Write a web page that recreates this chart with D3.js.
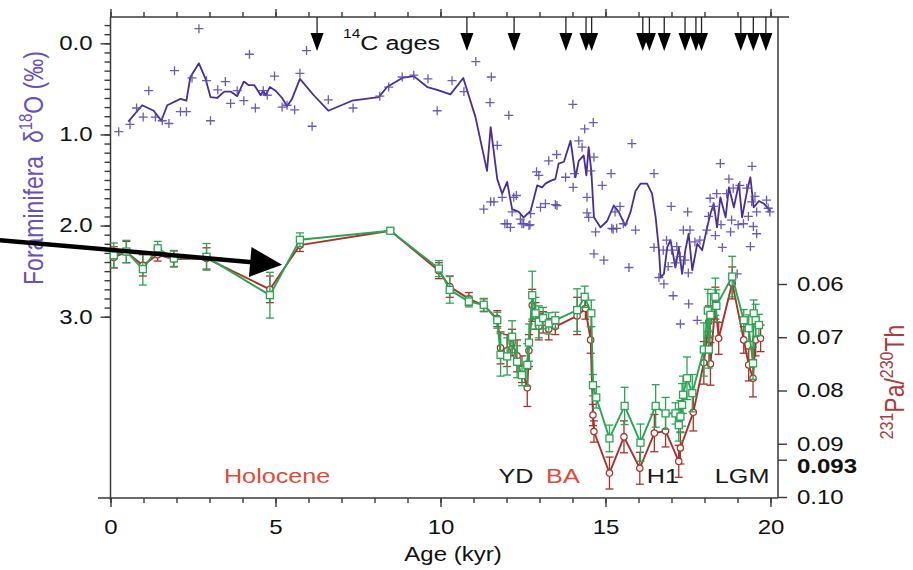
<!DOCTYPE html>
<html>
<head>
<meta charset="utf-8">
<script src="https://cdn.jsdelivr.net/npm/d3@7"></script>
<style>
  body { margin: 0; background: #fff; }
  text { font-family: "Liberation Sans", Arial, Helvetica, sans-serif; }
</style>
</head>
<body>
<svg id="chart" width="913" height="570"></svg>
<script>
// ---- axis ticks and labels ----
const ageMinorTicks = d3.range(0, 21, 1);
const ageMajorTicks = [0, 5, 10, 15, 20];
const d18oMajorTicks = [0, 1, 2, 3];
const d18oMinorTicks = d3.range(-2, 31).map(i => i / 10);
const paThTicks = [0.06, 0.07, 0.08, 0.09, 0.093, 0.10];

// ---- radiocarbon-dated levels (kyr) ----
const c14Ages = [6.26, 10.80, 12.23, 13.80, 14.41, 14.58, 16.13, 16.33, 16.78,
                 17.41, 17.74, 17.91, 19.10, 19.48, 19.86];

// ---- foraminifera d18O: smoothed record [age kyr, permil] ----
const d18oSmooth = [
  [0.54,0.86],[0.96,0.68],[1.31,0.74],[1.54,0.85],[1.72,0.68],[2.12,0.61],[2.30,0.63],
  [2.42,0.37],[2.68,0.22],[2.88,0.39],[3.03,0.59],[3.23,0.60],[3.45,0.53],[3.64,0.53],
  [3.84,0.58],[4.04,0.42],[4.19,0.46],[4.36,0.46],[4.55,0.57],[4.63,0.52],[4.70,0.57],
  [4.83,0.48],[5.00,0.52],[5.20,0.60],[5.35,0.69],[5.50,0.61],[5.74,0.39],[6.16,0.57],
  [6.60,0.74],[7.32,0.63],[8.13,0.59],[8.38,0.48],[8.84,0.38],[9.19,0.36],[9.60,0.48],
  [9.90,0.51],[10.30,0.56],[10.69,0.38],[11.06,0.81],[11.41,1.40],[11.52,0.92],[11.72,1.49],
  [11.87,1.65],[12.02,1.52],[12.17,1.82],[12.37,1.85],[12.52,1.91],[12.73,1.84],[12.93,1.56],
  [13.08,1.58],[13.18,1.54],[13.33,1.51],[13.48,1.49],[13.58,1.32],[13.74,1.30],[13.94,1.07],
  [13.99,1.19],[14.09,1.47],[14.19,1.29],[14.34,1.23],[14.42,1.45],[14.49,1.14],[14.57,1.40],
  [14.65,1.91],[14.85,2.02],[15.05,1.95],[15.25,1.78],[15.40,1.85],[15.60,2.00],[15.76,1.85],
  [15.91,1.62],[16.06,1.54],[16.26,1.54],[16.41,1.65],[16.52,1.91],[16.62,2.27],[16.67,2.57],
  [16.77,2.53],[16.87,2.24],[16.97,2.16],[17.12,2.46],[17.22,2.24],[17.32,2.53],[17.42,2.27],
  [17.52,2.09],[17.63,2.49],[17.78,2.20],[17.93,2.27],[18.08,2.02],[18.18,1.87],[18.28,1.76],
  [18.38,2.02],[18.48,1.69],[18.64,1.91],[18.74,1.58],[18.89,1.80],[19.04,1.54],[19.14,1.91],
  [19.29,1.62],[19.39,1.47],[19.49,1.80],[19.65,1.73],[19.80,1.76],[20.00,1.84]
];

// ---- foraminifera d18O: individual measurements [age kyr, permil] ----
const d18oRaw = [
  [0.25,0.97],[0.59,0.89],[0.79,0.71],[0.99,0.81],[1.16,0.52],[1.36,0.81],[1.57,0.85],
  [1.77,0.88],[1.94,0.30],[2.12,0.75],[2.30,0.75],[2.47,0.38],[2.68,-0.16],[2.91,0.41],
  [3.03,0.85],[3.25,0.51],[3.48,0.42],[3.64,0.66],[3.84,0.52],[4.04,0.63],[4.21,0.12],
  [4.39,0.71],[4.63,0.52],[4.75,0.57],[4.97,0.36],[5.20,0.70],[5.35,0.68],[5.58,0.73],
  [5.74,0.33],[5.94,0.08],[6.11,0.91],[6.60,0.62],[7.35,0.71],[8.16,0.58],[8.43,0.48],
  [8.84,0.37],[9.19,0.35],[9.62,0.39],[9.90,0.74],
  [10.35,0.41],[10.71,0.53],[11.07,0.20],[11.54,0.37],[11.50,0.65],[12.07,0.79],[11.72,1.12],
  [11.31,1.82],[11.52,1.74],[11.62,1.74],[11.87,1.69],[12.30,1.67],[12.02,1.98],[12.12,2.02],
  [12.17,1.85],[12.42,1.93],[12.52,1.98],[12.71,1.99],[12.73,1.87],[12.91,1.41],[12.98,1.45],
  [13.03,1.80],[13.18,1.76],[13.28,1.29],[13.48,1.77],[13.52,1.22],[13.79,1.47],[14.01,0.67],
  [14.02,1.58],[14.19,1.07],[14.29,1.14],[14.37,0.94],[14.63,0.87],[14.65,1.25],[14.44,1.86],
  [14.49,1.91],[14.70,2.07],[14.90,1.56],[15.17,1.43],[15.23,2.04],[14.06,1.43],[14.44,1.69],
  [14.55,1.40],[11.95,1.98],[12.47,1.98],[12.68,2.00],[12.22,1.69],[13.53,1.78],[14.65,2.31],
  [14.95,2.38],
  [15.80,1.10],[16.47,1.43],[18.48,1.32],[19.44,1.35],[18.74,1.49],[16.99,1.79],[17.49,1.85],
  [15.91,2.05],[15.71,2.46],[16.47,2.24],[16.62,2.57],[16.77,2.64],[17.05,2.77],[17.52,2.86],
  [17.78,3.04],[17.27,3.08],[18.99,2.53],[19.39,2.23],[19.98,1.85],[18.33,2.11],[18.54,2.24],
  [18.79,2.07],[18.17,1.70],[18.12,1.90],[18.37,1.65],[18.67,1.65],[18.87,1.59],[19.07,1.56],
  [19.28,1.59],[19.43,1.74],[19.53,1.68],[19.58,1.85],[19.18,1.98],[19.48,2.01],[19.58,2.09],
  [19.88,1.72],[19.93,1.81],[18.82,1.94],[18.50,1.99],[18.27,1.79],[19.33,1.90],[19.02,1.99],
  [18.07,2.05],[17.86,2.16],[17.71,2.18],[17.56,2.05],[17.36,2.05],[17.16,2.23],[17.00,2.27],
  [16.85,2.16],[16.75,2.27],[17.26,2.34],[17.41,2.38],[17.51,2.52],[17.11,2.41],[16.90,2.45],
  [15.44,1.79],[15.29,1.85],[15.54,1.98],[15.34,2.03],[15.19,2.03]
];

// ---- 231Pa/230Th ratios [age kyr, ratio, 1-sigma error] ----
const paThRed = [
  [0.10,0.0550,0.0020],[0.48,0.0540,0.0020],[0.98,0.0565,0.0020],[1.43,0.0545,0.0012],
  [1.92,0.0553,0.0015],[2.91,0.0552,0.0020],[4.83,0.0610,0.0025],[5.74,0.0527,0.0012],
  [8.48,0.0500,0.0004],[9.95,0.0575,0.0015],[10.28,0.0605,0.0020],[10.86,0.0628,0.0012],
  [11.31,0.0640,0.0012],[11.72,0.0665,0.0015],[11.82,0.0720,0.0030],[12.02,0.0725,0.0030],
  [12.17,0.0710,0.0025],[12.32,0.0735,0.0030],[12.47,0.0760,0.0025],[12.63,0.0795,0.0035],
  [12.68,0.0725,0.0030],[12.78,0.0640,0.0030],[12.88,0.0660,0.0025],[12.98,0.0680,0.0025],
  [13.11,0.0672,0.0020],[13.28,0.0685,0.0020],[13.48,0.0680,0.0015],[14.14,0.0660,0.0035],
  [14.39,0.0646,0.0020],[14.55,0.0705,0.0025],[14.62,0.0846,0.0020],[14.65,0.0877,0.0020],
  [15.12,0.0955,0.0030],[15.56,0.0887,0.0030],[16.04,0.0946,0.0030],[16.48,0.0880,0.0035],
  [16.82,0.0876,0.0030],[17.22,0.0933,0.0030],[17.27,0.0908,0.0030],[17.66,0.0841,0.0035],
  [17.98,0.0748,0.0040],[18.13,0.0671,0.0030],[18.18,0.0750,0.0040],[18.33,0.0636,0.0030],
  [18.43,0.0702,0.0030],[18.84,0.0598,0.0030],[19.19,0.0705,0.0025],[19.34,0.0752,0.0030],
  [19.47,0.0777,0.0035],[19.55,0.0705,0.0030],[19.70,0.0702,0.0025]
];
const paThGreen = [
  [0.10,0.0546,0.0023],[0.48,0.0539,0.0021],[0.98,0.0572,0.0030],[1.43,0.0533,0.0013],
  [1.92,0.0552,0.0015],[2.91,0.0549,0.0025],[4.83,0.0621,0.0043],[5.74,0.0517,0.0013],
  [8.48,0.0500,0.0004],[9.95,0.0571,0.0015],[10.28,0.0611,0.0025],[10.86,0.0633,0.0010],
  [11.31,0.0639,0.0012],[11.72,0.0668,0.0015],[11.82,0.0733,0.0040],[12.02,0.0736,0.0035],
  [12.17,0.0699,0.0030],[12.32,0.0746,0.0030],[12.47,0.0771,0.0020],[12.63,0.0752,0.0040],
  [12.68,0.0710,0.0035],[12.78,0.0621,0.0045],[12.88,0.0655,0.0030],[12.98,0.0671,0.0030],
  [13.11,0.0664,0.0020],[13.28,0.0674,0.0020],[13.48,0.0668,0.0015],[14.14,0.0649,0.0040],
  [14.37,0.0624,0.0020],[14.57,0.0655,0.0025],[14.62,0.0790,0.0020],[14.72,0.0813,0.0020],
  [15.12,0.0890,0.0025],[15.58,0.0829,0.0035],[16.06,0.0898,0.0035],[16.52,0.0829,0.0040],
  [16.82,0.0843,0.0030],[17.12,0.0843,0.0020],[17.22,0.0865,0.0030],[17.27,0.0849,0.0030],
  [17.32,0.0827,0.0040],[17.35,0.0808,0.0035],[17.47,0.0777,0.0040],[17.63,0.0805,0.0035],
  [17.98,0.0723,0.0050],[18.10,0.0650,0.0040],[18.13,0.0723,0.0035],[18.18,0.0658,0.0040],
  [18.33,0.0624,0.0035],[18.36,0.0641,0.0030],[18.84,0.0586,0.0038],[19.19,0.0668,0.0020],
  [19.34,0.0683,0.0025],[19.47,0.0749,0.0030],[19.49,0.0655,0.0025],[19.55,0.0668,0.0030],
  [19.65,0.0677,0.0020]
];

// ---- climate period names and their centre ages (kyr) ----
const periodNames  = ["Holocene", "YD", "BA", "H1", "LGM"];
const periodAges   = [5.05, 12.29, 13.71, 16.74, 19.14];
const periodColors = ["#e04a3a", "#1a1a1a", "#e04a3a", "#1a1a1a", "#1a1a1a"];

// pointer arrow [age, d18O] from tail to tip
const pointerFrom = [-3.35, 2.16];
const pointerTo   = [5.20, 2.43];

// ---------------------------------------------------------------
const SX = 1.2;           // horizontal glyph stretch of the typeface
const svg = d3.select("#chart");
const axisColor = "#3a3a3a";
const purpleLine = "#4a2d96", purpleMark = "#5e49b2";
const redC = "#a8322c", greenC = "#2aa552";

const x  = d3.scaleLinear([0, 20], [110.5, 770.5]);
const yD = d3.scaleLinear([0, 3], [43.3, 316.7]);
const yP = d3.scaleLinear([0.06, 0.10], [284, 497]);

const topY = 17, bottomY = 498, leftX = 110.5, rightX = 778;
const isBoldTick = v => Math.abs(v - 0.093) < 1e-9;

function label(g, px, py, rot) {
  return g.append("text")
    .attr("transform", `translate(${px},${py}) scale(${SX},1)` + (rot ? ` rotate(${rot})` : ""));
}

// ---- frame lines ----
const frame = svg.append("g").attr("stroke", axisColor).attr("stroke-width", 1.5);
frame.append("line").attr("x1", leftX).attr("x2", 789).attr("y1", topY).attr("y2", topY);
frame.append("line").attr("x1", 98).attr("x2", rightX).attr("y1", bottomY).attr("y2", bottomY);
frame.append("line").attr("x1", leftX).attr("x2", leftX).attr("y1", topY).attr("y2", bottomY + 2);
frame.append("line").attr("x1", rightX).attr("x2", rightX).attr("y1", topY).attr("y2", bottomY);

function styleAxis(g) {
  g.select(".domain").remove();
  g.selectAll(".tick line").attr("stroke", axisColor).attr("stroke-width", 1.4);
  g.selectAll("text").attr("fill", "#111").attr("font-size", 20);
}

// bottom age axis
svg.append("g").attr("transform", `translate(0,${bottomY})`)
  .call(d3.axisBottom(x).tickValues(ageMinorTicks).tickSize(5).tickFormat(""))
  .call(styleAxis);
svg.append("g").attr("transform", `translate(0,${bottomY})`)
  .call(d3.axisBottom(x).tickValues(ageMajorTicks).tickSize(9).tickFormat(d3.format("d")))
  .call(styleAxis)
  .call(g => g.selectAll("text").attr("y", 22).attr("dy", "0.71em")
              .attr("transform", `scale(${SX},1)`));

// top age axis (ticks only)
svg.append("g").attr("transform", `translate(0,${topY})`)
  .call(d3.axisTop(x).tickValues(ageMinorTicks).tickSize(5).tickFormat(""))
  .call(styleAxis);
svg.append("g").attr("transform", `translate(0,${topY})`)
  .call(d3.axisTop(x).tickValues(ageMajorTicks).tickSize(8).tickFormat(""))
  .call(styleAxis);

// left d18O axis
svg.append("g").attr("transform", `translate(${leftX},0)`)
  .call(d3.axisLeft(yD).tickValues(d18oMinorTicks).tickSize(6).tickFormat(""))
  .call(styleAxis);
svg.append("g").attr("transform", `translate(${leftX},0)`)
  .call(d3.axisLeft(yD).tickValues(d18oMajorTicks).tickSize(10).tickFormat(d3.format(".1f")))
  .call(styleAxis)
  .call(g => g.selectAll("text").attr("x", -18 / SX).attr("transform", `scale(${SX},1)`));

// right Pa/Th axis; the bold 0.093 label sits a little low to clear 0.09
svg.append("g").attr("transform", `translate(${rightX},0)`)
  .call(d3.axisRight(yP).tickValues(paThTicks).tickSize(9)
        .tickFormat(v => isBoldTick(v) ? "0.093" : d3.format(".2f")(v)))
  .call(styleAxis)
  .call(g => g.selectAll("text").attr("x", 19 / SX).attr("font-size", 20)
              .attr("transform", d => `translate(0,${isBoldTick(d) ? 6 : 0}) scale(${SX},1)`)
              .attr("font-weight", d => isBoldTick(d) ? "bold" : null));

// ---- axis titles ----
const tl = label(svg, 43, 168, -90).attr("text-anchor", "middle")
  .attr("font-size", 23).attr("fill", "#6a50b8");
tl.append("tspan").text("Foraminifera\u00a0\u00a0\u03b4");
tl.append("tspan").attr("font-size", 15).attr("dy", -9).text("18");
tl.append("tspan").attr("dy", 9).text("O (\u2030)");

const tr = label(svg, 904, 382, -90).attr("text-anchor", "middle")
  .attr("font-size", 23).attr("fill", "#aa3c3c");
tr.append("tspan").attr("font-size", 16).attr("dy", -9).text("231");
tr.append("tspan").attr("dy", 9).text("Pa/");
tr.append("tspan").attr("font-size", 16).attr("dy", -9).text("230");
tr.append("tspan").attr("dy", 9).text("Th");

label(svg, 453, 561).attr("text-anchor", "middle").attr("font-size", 20)
  .attr("fill", "#111").text("Age (kyr)");

// ---- 14C age markers ----
const c14 = svg.append("g");
c14.selectAll("line").data(c14Ages).join("line")
  .attr("x1", d => x(d)).attr("x2", d => x(d)).attr("y1", topY).attr("y2", 34)
  .attr("stroke", "#222").attr("stroke-width", 1.3);
c14.selectAll("path").data(c14Ages).join("path")
  .attr("d", d => `M${x(d) - 6.5},33L${x(d) + 6.5},33L${x(d)},51Z`)
  .attr("fill", "#000");
const ct = label(svg, 343, 50).attr("font-size", 21).attr("fill", "#111");
ct.append("tspan").attr("font-size", 13).attr("dy", -12).text("14");
ct.append("tspan").attr("dy", 12).text("C ages");

// ---- d18O record ----
svg.append("path").datum(d18oSmooth)
  .attr("d", d3.line().x(d => x(d[0])).y(d => yD(d[1])))
  .attr("fill", "none").attr("stroke", purpleLine).attr("stroke-width", 1.8)
  .attr("stroke-linejoin", "round");
svg.append("g").selectAll("path").data(d18oRaw).join("path")
  .attr("transform", d => `translate(${x(d[0])},${yD(d[1])})`)
  .attr("d", "M-4.5,0H4.5M0,-4.5V4.5")
  .attr("stroke", purpleMark).attr("stroke-width", 1.3).attr("opacity", 0.9);

// ---- Pa/Th records ----
function drawSeries(data, color, marker) {
  const g = svg.append("g");
  const eb = g.append("g").attr("stroke", color).attr("stroke-width", 1.3);
  data.forEach(d => {
    const cx = x(d[0]), y1 = yP(d[1] - d[2]), y2 = yP(d[1] + d[2]);
    eb.append("line").attr("x1", cx).attr("x2", cx).attr("y1", y1).attr("y2", y2);
    eb.append("line").attr("x1", cx - 4).attr("x2", cx + 4).attr("y1", y1).attr("y2", y1);
    eb.append("line").attr("x1", cx - 4).attr("x2", cx + 4).attr("y1", y2).attr("y2", y2);
  });
  g.append("path").datum(data)
    .attr("d", d3.line().x(d => x(d[0])).y(d => yP(d[1])))
    .attr("fill", "none").attr("stroke", color).attr("stroke-width", 1.9)
    .attr("stroke-linejoin", "round");
  const m = g.append("g").selectAll("g").data(data).join("g")
    .attr("transform", d => `translate(${x(d[0])},${yP(d[1])})`);
  if (marker === "circle") {
    m.append("circle").attr("r", 3.2).attr("fill", "#fff")
      .attr("stroke", color).attr("stroke-width", 1.2);
  } else {
    m.append("rect").attr("x", -3.5).attr("y", -3.5).attr("width", 7).attr("height", 7)
      .attr("fill", "#fff").attr("stroke", color).attr("stroke-width", 1.3);
  }
}
drawSeries(paThRed, redC, "circle");
drawSeries(paThGreen, greenC, "square");

// ---- period labels ----
periodNames.forEach((name, i) => {
  label(svg, x(periodAges[i]), 483).attr("text-anchor", "middle")
    .attr("font-size", 21).attr("fill", periodColors[i]).text(name);
});

// ---- pointer arrow ----
const p0 = [x(pointerFrom[0]), yD(pointerFrom[1])];
const p1 = [x(pointerTo[0]), yD(pointerTo[1])];
const len = Math.hypot(p1[0] - p0[0], p1[1] - p0[1]);
const ux = (p1[0] - p0[0]) / len, uy = (p1[1] - p0[1]) / len;
const headL = 32, headW = 15;
const bx = p1[0] - ux * headL, by = p1[1] - uy * headL;
svg.append("line").attr("x1", p0[0]).attr("y1", p0[1]).attr("x2", bx + ux * 2).attr("y2", by + uy * 2)
  .attr("stroke", "#000").attr("stroke-width", 4.5);
svg.append("path")
  .attr("d", `M${p1[0]},${p1[1]}L${bx - uy * headW},${by + ux * headW}L${bx + uy * headW},${by - ux * headW}Z`)
  .attr("fill", "#000");
</script>
</body>
</html>
